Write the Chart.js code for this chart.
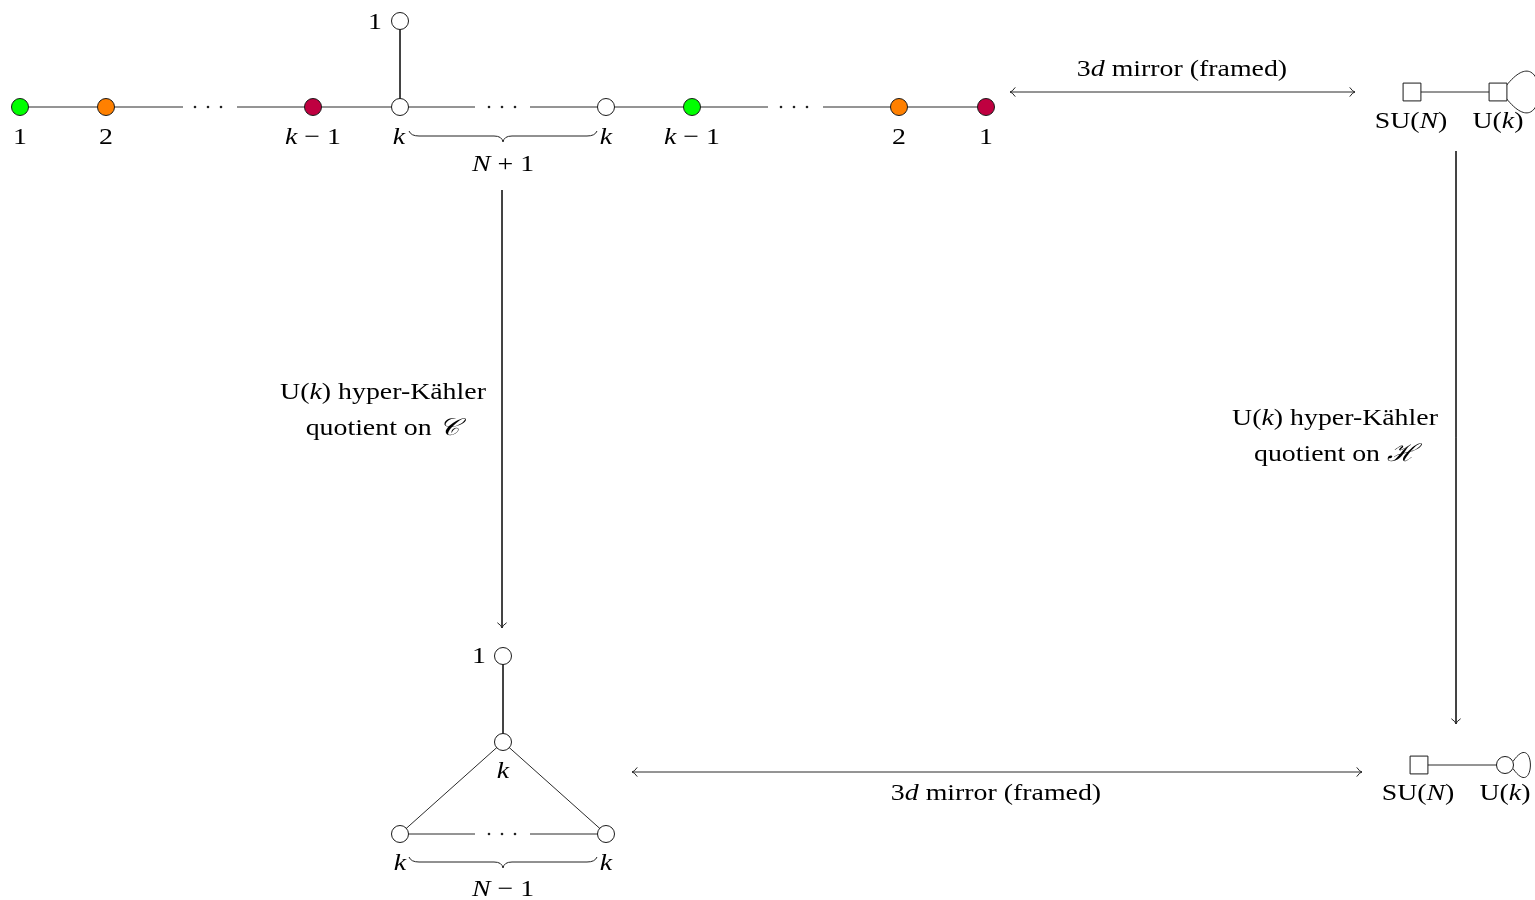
<!DOCTYPE html>
<html>
<head>
<meta charset="utf-8">
<script src="https://cdn.jsdelivr.net/npm/chart.js@4.4.0/dist/chart.umd.min.js"></script>
<style>
  html, body { margin: 0; padding: 0; background: #fff; }
  #quiver { display: block; }
</style>
</head>
<body>
<canvas id="quiver" width="1535" height="900"></canvas>
<script>
// gauge nodes (circles): position and colour
const nodeX    = [20, 106, 313, 400, 606, 692, 899, 986, 400, 503, 503, 400, 606, 1505];
const nodeY    = [107, 107, 107, 107, 107, 107, 107, 107, 21, 656, 742, 834, 834, 765];
const nodeFill = ['#00ff00', '#ff8000', '#bf0040', '#ffffff', '#ffffff', '#00ff00', '#ff8000', '#bf0040',
                  '#ffffff', '#ffffff', '#ffffff', '#ffffff', '#ffffff', '#ffffff'];

// flavour nodes (squares)
const flavX = [1412, 1498, 1419];
const flavY = [92, 92, 765];

// edges [x1, y1, x2, y2]
const edges = [
  [20, 107, 106, 107], [106, 107, 183, 107], [237, 107, 313, 107], [313, 107, 400, 107],
  [400, 107, 475, 107], [530, 107, 606, 107], [606, 107, 692, 107], [692, 107, 768, 107],
  [823, 107, 899, 107], [899, 107, 986, 107], [400, 21, 400, 107],
  [503, 656, 503, 742], [503, 742, 400, 834], [503, 742, 606, 834],
  [400, 834, 475, 834], [530, 834, 606, 834],
  [1412, 92, 1498, 92], [1419, 765, 1505, 765]
];

// "..." between nodes
const dotsX = [208, 502, 794, 502];
const dotsY = [107, 107, 107, 834];

// arrows [x1, y1, x2, y2, both ends]
const arrows = [
  [1010, 92, 1355, 92, true],
  [502, 190, 502, 628, false],
  [1456, 151, 1456, 724, false],
  [632, 772, 1362, 772, true]
];

// braces [xLeft, xRight, yTop]
const braces = [[409, 597, 131], [409, 597, 857]];

// self loops on [x, y, size]
const loops = [[1498, 92, 1], [1505, 765, 0.6]];

// text labels ($..$ = italic)
const labelText = [
  '1', '2', '$k$ − 1', '$k$', '$k$', '$k$ − 1', '2', '1',
  '1', '$N$ + 1',
  'U($k$) hyper-Kähler', 'quotient on $𝒞$',
  '3$d$ mirror (framed)', 'SU($N$)', 'U($k$)',
  'U($k$) hyper-Kähler', 'quotient on $ℋ$',
  '1', '$k$', '$k$', '$k$', '$N$ − 1',
  '3$d$ mirror (framed)', 'SU($N$)', 'U($k$)'
];
const labelX = [
  20, 106, 313, 399, 606, 692, 899, 986,
  375, 503,
  383, 382,
  1182, 1411, 1498,
  1335, 1335,
  479, 503, 400, 606, 503,
  996, 1418, 1505
];
const labelY = [
  144, 144, 144, 144, 144, 144, 144, 144,
  29, 171,
  399, 435,
  76, 128, 128,
  425, 461,
  663, 778, 870, 870, 896,
  800, 800, 800
];

const FONT_PX = 24;
const STRETCH = 1.16;
const FAMILY = '"Liberation Serif", "DejaVu Serif", serif';

function drawRich(ctx, str, cx, by) {
  const parts = str.split('$');
  const fonts = parts.map((p, i) => (i % 2 ? 'italic ' : '') + FONT_PX + 'px ' + FAMILY);
  const widths = parts.map((p, i) => { ctx.font = fonts[i]; return ctx.measureText(p).width; });
  const total = widths.reduce((a, b) => a + b, 0) * STRETCH;
  ctx.save();
  ctx.translate(cx - total / 2, by);
  ctx.scale(STRETCH, 1);
  ctx.fillStyle = '#000';
  ctx.textBaseline = 'alphabetic';
  let pos = 0;
  parts.forEach((p, i) => {
    ctx.font = fonts[i];
    ctx.fillText(p, pos, 0);
    pos += widths[i];
  });
  ctx.restore();
}

const scenery = {
  id: 'scenery',
  beforeDatasetsDraw(chart) {
    const { ctx, scales: { x, y } } = chart;
    ctx.save();
    ctx.strokeStyle = '#222';
    ctx.lineWidth = 1;

    // braces
    braces.forEach(([x0, x1, y0]) => {
      const L = x.getPixelForValue(x0), R = x.getPixelForValue(x1);
      const T = y.getPixelForValue(y0), M = (L + R) / 2;
      ctx.beginPath();
      ctx.moveTo(L, T);
      ctx.quadraticCurveTo(L + 2, T + 5, L + 10, T + 5);
      ctx.lineTo(M - 9, T + 5);
      ctx.quadraticCurveTo(M - 1, T + 5, M, T + 11);
      ctx.quadraticCurveTo(M + 1, T + 5, M + 9, T + 5);
      ctx.lineTo(R - 10, T + 5);
      ctx.quadraticCurveTo(R - 2, T + 5, R, T);
      ctx.stroke();
    });

    // self loops
    loops.forEach(([lx, ly, s]) => {
      const cx = x.getPixelForValue(lx), cy = y.getPixelForValue(ly);
      ctx.beginPath();
      ctx.moveTo(cx + 8, cy - 6 * s);
      ctx.bezierCurveTo(cx + 52 * s, cy - 62 * s, cx + 52 * s, cy + 62 * s, cx + 8, cy + 6 * s);
      ctx.stroke();
    });

    // arrow heads
    arrows.forEach(([x1, y1, x2, y2, both]) => {
      const ax = x.getPixelForValue(x1), ay = y.getPixelForValue(y1);
      const bx = x.getPixelForValue(x2), by = y.getPixelForValue(y2);
      const head = (tx, ty, ang) => {
        ctx.beginPath();
        [-1, 1].forEach(sg => {
          const a = ang + sg * 0.72;
          ctx.moveTo(tx - 7 * Math.cos(a), ty - 7 * Math.sin(a));
          ctx.quadraticCurveTo(tx - 2 * Math.cos(ang), ty - 2 * Math.sin(ang), tx, ty);
        });
        ctx.stroke();
      };
      const ang = Math.atan2(by - ay, bx - ax);
      head(bx, by, ang);
      if (both) head(ax, ay, ang + Math.PI);
    });
    ctx.restore();
  },
  afterDatasetsDraw(chart) {
    const { ctx, scales: { x, y } } = chart;
    labelText.forEach((t, i) => {
      drawRich(ctx, t, x.getPixelForValue(labelX[i]), y.getPixelForValue(labelY[i]));
    });
  }
};

const datasets = [];
datasets.push({
  data: nodeX.map((v, i) => ({ x: v, y: nodeY[i] })),
  pointStyle: 'circle',
  pointRadius: 8.5,
  pointBackgroundColor: nodeFill,
  pointBorderColor: '#1a1a1a',
  pointBorderWidth: 1,
  order: 0
});
datasets.push({
  data: flavX.map((v, i) => ({ x: v, y: flavY[i] })),
  pointStyle: 'rect',
  pointRadius: 12.6,
  pointBackgroundColor: '#ffffff',
  pointBorderColor: '#1a1a1a',
  pointBorderWidth: 1,
  order: 0
});
datasets.push({
  data: dotsX.flatMap((v, i) => [-13, 0, 13].map(d => ({ x: v + d, y: dotsY[i] }))),
  pointStyle: 'circle',
  pointRadius: 1.3,
  pointBackgroundColor: '#222',
  pointBorderWidth: 0,
  order: 0
});
edges.concat(arrows).forEach(e => {
  datasets.push({
    data: [{ x: e[0], y: e[1] }, { x: e[2], y: e[3] }],
    showLine: true,
    borderColor: '#2a2a2a',
    borderWidth: 1,
    pointRadius: 0,
    order: 1
  });
});

new Chart(document.getElementById('quiver'), {
  type: 'scatter',
  data: { datasets },
  options: {
    responsive: false,
    animation: false,
    events: [],
    layout: { padding: 0, autoPadding: false },
    plugins: { legend: { display: false }, tooltip: { enabled: false } },
    scales: {
      x: { type: 'linear', min: 0, max: 1535, display: false },
      y: { type: 'linear', min: 0, max: 900, reverse: true, display: false }
    }
  },
  plugins: [scenery]
});
</script>
</body>
</html>
